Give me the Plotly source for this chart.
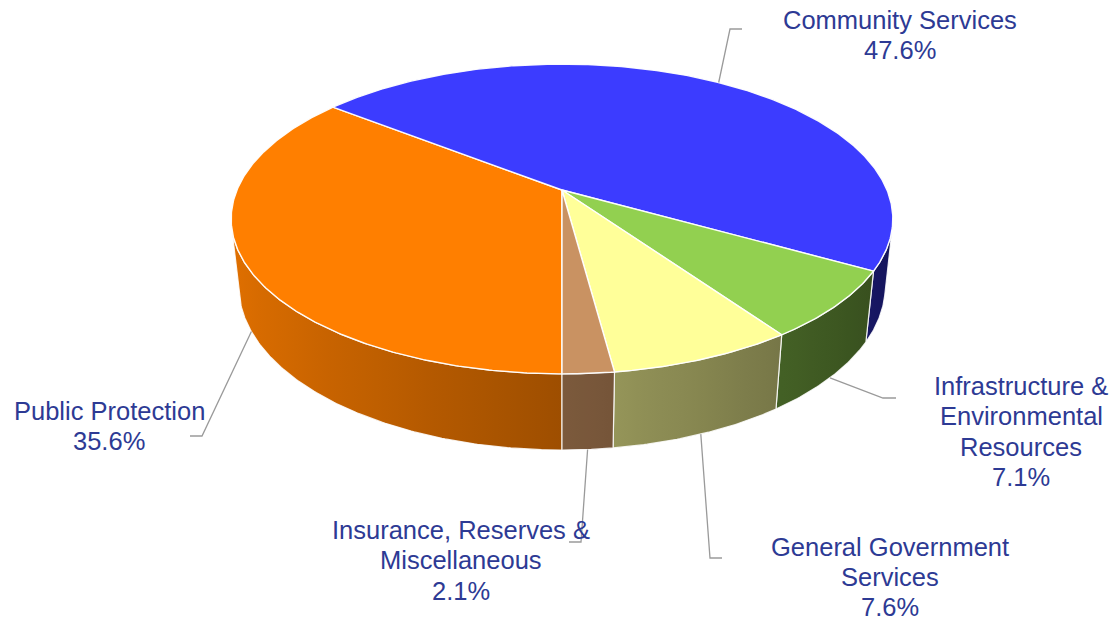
import numpy as np
import plotly.graph_objects as go

# ---- data -------------------------------------------------------------
categories = [
    "Public Protection",
    "Community Services",
    "Infrastructure & Environmental Resources",
    "General Government Services",
    "Insurance, Reserves & Miscellaneous",
]
shares = [35.6, 47.6, 7.1, 7.6, 2.1]
name_lines = [
    ["Public Protection"],
    ["Community Services"],
    ["Infrastructure &", "Environmental", "Resources"],
    ["General Government", "Services"],
    ["Insurance, Reserves &", "Miscellaneous"],
]

# ---- styling ----------------------------------------------------------
top_colors = ["#FF7F00", "#3C3CFF", "#92D050", "#FFFF99", "#C99262"]
label_color = "#2D3A94"
leader_color = "#9A9A9A"
font_family = "Liberation Sans, Arial, sans-serif"
font_size = 25.5
line_h = 30.3

# label block: centre x, first line centre y (px from top)
label_pos = [(109, 411), (900, 20), (1021, 386), (890, 546.5), (461, 530)]
# leader line: elbow point and end point next to the label
leader_elbow = [(202, 436), (730, 29), (883, 398), (710, 558), (581, 542)]
leader_end = [(190, 436), (742, 29), (896, 398), (722, 558), (569, 542)]

# ---- 3-D pie geometry (perspective projection) ------------------------
W, H = 1119, 622
CX, CY = 562, 190          # screen position of the pie centre
R = 325                    # radius in px
S = 0.46                   # sin(elevation)
C = np.sqrt(1 - S * S)
DIST = 4.75                # camera distance in radius units
THICK = 0.235              # pie thickness in radius units
START = 180.0              # first slice angle, clockwise from 12 o'clock


def project(theta_deg, r=1.0, z=0.0):
    t = np.radians(theta_deg)
    X = r * np.sin(t)
    Y = r * np.cos(t)
    depth = Y * C - z * S
    v = Y * S + z * C
    f = DIST / (DIST + depth)
    return CX + R * X * f, CY - R * v * f


def arc(a1, a2, z=0.0, n=None):
    if n is None:
        n = max(int(abs(a2 - a1) * 2), 4)
    th = np.linspace(a1, a2, n)
    return project(th, 1.0, z)


def shade(hex_color, theta):
    k = 0.62 - 0.27 * np.sin(np.radians(theta))
    h = hex_color.lstrip("#")
    rgb = [int(h[i:i + 2], 16) for i in (0, 2, 4)]
    return "rgb({},{},{})".format(*[int(max(0, min(255, c * k))) for c in rgb])


cum = np.concatenate([[0.0], np.cumsum(shares)])
bounds = START + 360.0 * cum / cum[-1]

# visible part of the outer wall: where the normal faces the camera
k_sil = 1.0 / (DIST * C)
vis_lo = np.degrees(np.arccos(-k_sil))
vis_hi = 360.0 - vis_lo

fig = go.Figure()

# outer walls
for i in range(len(shares)):
    a1, a2 = bounds[i], bounds[i + 1]
    for off in (0.0, 360.0):
        lo, hi = max(a1, vis_lo + off), min(a2, vis_hi + off)
        if hi <= lo:
            continue
        tx, ty = arc(lo, hi, 0.0)
        bx, by = arc(hi, lo, -THICK)
        xs = np.concatenate([tx, bx, tx[:1]])
        ys = np.concatenate([ty, by, ty[:1]])
        samp = np.linspace(lo, hi, 9)
        sx, _ = project(samp)
        x0, x1 = float(sx.min()), float(sx.max())
        order = np.argsort(sx)
        cs = []
        for j in order:
            p = 0.0 if x1 == x0 else (sx[j] - x0) / (x1 - x0)
            cs.append([float(p), shade(top_colors[i], samp[j])])
        cs[0][0], cs[-1][0] = 0.0, 1.0
        fig.add_trace(go.Scatter(
            x=xs, y=ys, mode="lines", fill="toself",
            line=dict(color="rgba(255,255,255,0.85)", width=1.2),
            fillcolor=shade(top_colors[i], (lo + hi) / 2),
            fillgradient=dict(type="horizontal", colorscale=cs, start=x0, stop=x1),
            hoverinfo="skip", showlegend=False,
        ))

# top surface
for i in range(len(shares)):
    a1, a2 = bounds[i], bounds[i + 1]
    ax, ay = arc(a1, a2, 0.0)
    xs = np.concatenate([[CX], ax, [CX]])
    ys = np.concatenate([[CY], ay, [CY]])
    fig.add_trace(go.Scatter(
        x=xs, y=ys, mode="lines", fill="toself", fillcolor=top_colors[i],
        line=dict(color="rgba(255,255,255,0.95)", width=1.4),
        hoverinfo="skip", showlegend=False, name=categories[i],
    ))

# labels and leader lines
annotations = []
shapes = []
for i in range(len(shares)):
    lines = name_lines[i] + ["{:.1f}%".format(shares[i])]
    lx, ly = label_pos[i]
    for j, txt in enumerate(lines):
        annotations.append(dict(
            x=lx / W, y=1 - (ly + j * line_h) / H, xref="paper", yref="paper",
            text=txt, showarrow=False, xanchor="center", yanchor="middle",
            font=dict(family=font_family, size=font_size, color=label_color),
        ))
    mid = (bounds[i] + bounds[i + 1]) / 2
    m = mid % 360
    on_wall = vis_lo <= m <= vis_hi
    px, py = project(mid, 1.0, -THICK if on_wall else 0.0)
    ex, ey = leader_elbow[i]
    fx, fy = leader_end[i]
    shapes.append(dict(
        type="path", xref="x", yref="y",
        path=f"M {px:.1f},{py:.1f} L {ex},{ey} L {fx},{fy}",
        line=dict(color=leader_color, width=1.3),
    ))

fig.update_layout(
    width=W, height=H,
    margin=dict(l=0, r=0, t=0, b=0),
    paper_bgcolor="white", plot_bgcolor="white",
    showlegend=False,
    xaxis=dict(range=[0, W], visible=False, fixedrange=True),
    yaxis=dict(range=[H, 0], visible=False, fixedrange=True),
    annotations=annotations, shapes=shapes,
)

fig.write_html("out.html")
